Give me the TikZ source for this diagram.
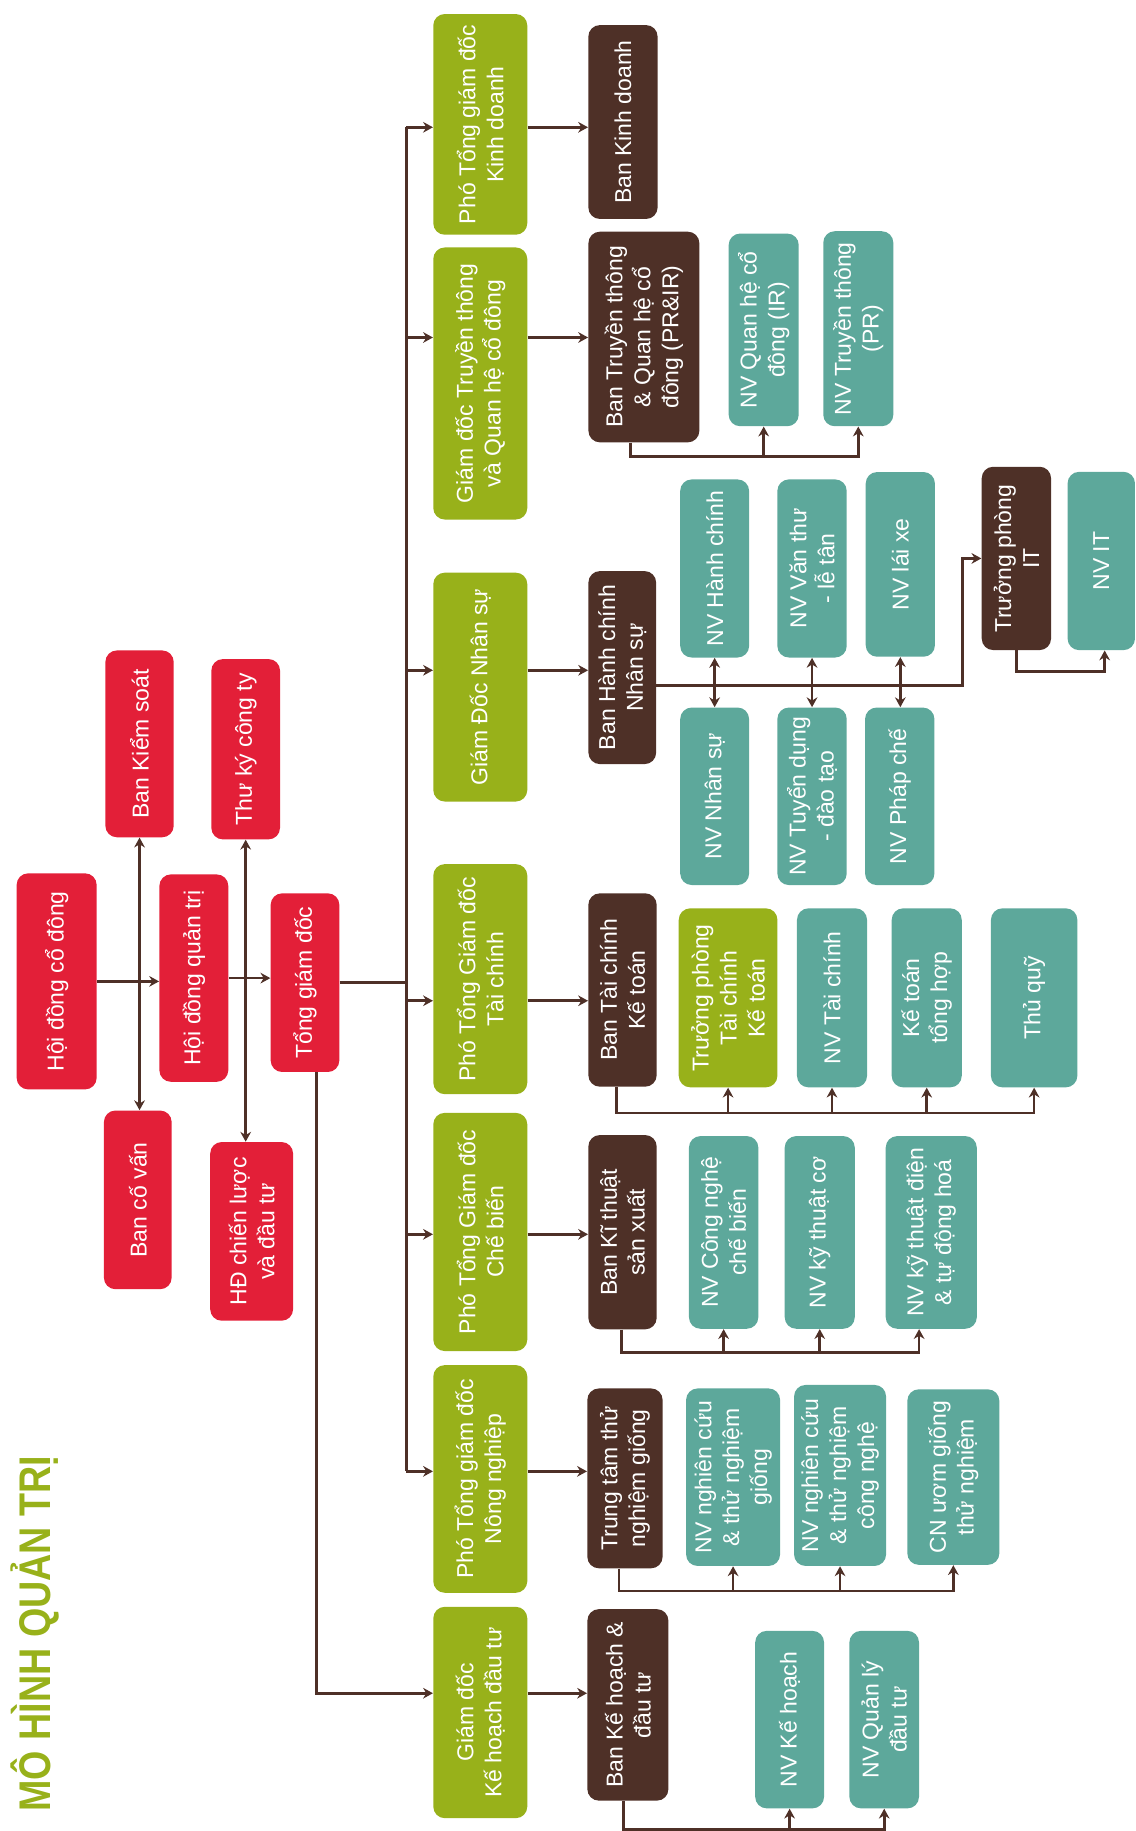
\documentclass[tikz,border=0pt]{standalone}
\usepackage{fontspec}
\setmainfont{Liberation Sans}
\usepackage{graphicx}
\usetikzlibrary{arrows.meta}

\definecolor{hred}{HTML}{E31F38}
\definecolor{hgreen}{HTML}{98B11A}
\definecolor{hbrown}{HTML}{4E3027}
\definecolor{hteal}{HTML}{5DA89B}

% boxes are turned by 90 degrees: north = left side, south = right side, west = bottom, east = top
\tikzstyle{box} = [rectangle, rounded corners=7pt, rotate=90, align=center,
    inner sep=0pt, text=white, font=\fontsize{14}{17}\selectfont]
\tikzstyle{redbox} = [box, fill=hred]
\tikzstyle{greenbox} = [box, fill=hgreen]
\tikzstyle{brownbox} = [box, fill=hbrown]
\tikzstyle{tealbox} = [box, fill=hteal]
\tikzstyle{ln} = [draw=hbrown, line width=1.6pt]
\tikzset{
  arr/.style={ln, -{Stealth[length=6pt,width=6.5pt]}},
  dbl/.style={ln, {Stealth[length=6pt,width=6.5pt]}-{Stealth[length=6pt,width=6.5pt]}},
  wh/.style 2 args={minimum height=#1*0.025cm, minimum width=#2*0.025cm}
}

\begin{document}
\begin{tikzpicture}[x=0.025cm, y=-0.025cm]
\useasboundingbox (0,0) rectangle (972,1568);

\node[font=\fontsize{27}{30}\selectfont\bfseries, text=hgreen, rotate=90] (title) at (30,1399) {\scalebox{0.85}[1]{MÔ HÌNH QUẢN TRỊ}};

% top level
\node[redbox, wh={68.5}{185}] (hdcd) at (48.5,840.4) {Hội đồng cổ đông};
\node[redbox, wh={58.5}{160}] (bks) at (119.5,637) {Ban Kiểm soát};
\node[redbox, wh={58}{153}] (bcv) at (118,1027.5) {Ban cố vấn};
\node[redbox, wh={59}{177.6}] (hdqt) at (166,837.6) {Hội đồng quản trị};
\node[redbox, wh={58.8}{154.4}] (tk) at (210.4,641.6) {Thư ký công ty};
\node[redbox, wh={71}{153}] (hdcl) at (215.5,1054.5) {HĐ chiến lược\\và đầu tư};
\node[redbox, wh={58.8}{153}] (tgd) at (261.2,841.5) {Tổng giám đốc};

% directors
\node[greenbox, wh={80.5}{189}] (ptgkd) at (411.3,106.5) {Phó Tổng giám đốc\\Kinh doanh};
\node[greenbox, wh={80.5}{233}] (gdtt) at (411.3,328.4) {Giám đốc Truyền thông\\và Quan hệ cổ đông};
\node[greenbox, wh={80.5}{196}] (gdns) at (411.3,588.4) {Giám Đốc Nhân sự};
\node[greenbox, wh={80.5}{197}] (ptgtc) at (411.3,838.5) {Phó Tổng Giám đốc\\Tài chính};
\node[greenbox, wh={80.5}{204}] (ptgcb) at (411.3,1055) {Phó Tổng Giám đốc\\Chế biến};
\node[greenbox, wh={80.5}{195}] (ptgnn) at (411.3,1266.5) {Phó Tổng giám đốc\\Nông nghiệp};
\node[greenbox, wh={80.5}{181}] (gdkh) at (411.3,1466.5) {Giám đốc\\Kế hoạch đầu tư};

% departments
\node[brownbox, wh={59.3}{166}] (bkd) at (533.5,104.5) {Ban Kinh doanh};
\node[brownbox, wh={95}{180.4}] (btt) at (551.4,288.6) {Ban Truyền thông\\\& Quan hệ cổ\\đông (PR\&IR)};
\node[brownbox, wh={58}{165.3}] (bhc) at (532.9,571.7) {Ban Hành chính\\Nhân sự};
\node[brownbox, wh={58.5}{165.6}] (btc) at (533.1,847.8) {Ban Tài chính\\Kế toán};
\node[brownbox, wh={58.5}{166.4}] (bkt) at (533.1,1055.2) {Ban Kĩ thuật\\sản xuất};
\node[brownbox, wh={64.5}{154}] (ttg) at (535.2,1266) {Trung tâm thử\\nghiệm giống};
\node[brownbox, wh={69.4}{164}] (bkh) at (537.7,1460) {Ban Kế hoạch \&\\đầu tư};

% staff
\node[tealbox, wh={60}{165}] (nvir) at (654,282.5) {NV Quan hệ cổ\\đông (IR)};
\node[tealbox, wh={60}{167}] (nvpr) at (735,281.5) {NV Truyền thông\\(PR)};

\node[tealbox, wh={59}{152.5}] (nvhc) at (612,486.8) {NV Hành chính};
\node[tealbox, wh={59.4}{152.5}] (nvvt) at (695.4,486.8) {NV Văn thư\\- lễ tân};
\node[tealbox, wh={59.3}{158.2}] (nvlx) at (771,483.3) {NV lái xe};
\node[tealbox, wh={59}{152}] (nvns) at (612,681.9) {NV Nhân sự};
\node[tealbox, wh={59.4}{152}] (nvtd) at (695.4,681.9) {NV Tuyển dụng\\- đào tạo};
\node[tealbox, wh={59.4}{152}] (nvpc) at (770.5,681.9) {NV Pháp chế};
\node[brownbox, wh={59.4}{157}] (tpit) at (870.4,478.2) {Trưởng phòng\\IT};
\node[tealbox, wh={57.7}{152.7}] (nvit) at (943.1,480.4) {NV IT};

\node[greenbox, wh={84.5}{153.3}] (tptc) at (623.5,854.5) {Trưởng phòng\\Tài chính\\Kế toán};
\node[tealbox, wh={60}{153.3}] (nvtc) at (712.5,854.5) {NV Tài chính};
\node[tealbox, wh={60}{153.3}] (kth) at (793.6,854.5) {Kế toán\\tổng hợp};
\node[tealbox, wh={74}{153.3}] (tq) at (885.6,854.5) {Thủ quỹ};

\node[tealbox, wh={59.4}{165}] (nvcn) at (619.7,1055.4) {NV Công nghệ\\chế biến};
\node[tealbox, wh={60}{165}] (nvktc) at (702,1055.4) {NV kỹ thuật cơ};
\node[tealbox, wh={78}{165}] (nvktd) at (797.5,1055.4) {NV kỹ thuật điện\\\& tự động hoá};

\node[tealbox, wh={80.5}{152}] (nvncg) at (627.8,1265) {NV nghiên cứu\\\& thử nghiệm\\giống};
\node[tealbox, wh={78.8}{155}] (nvnccn) at (719.4,1263.5) {NV nghiên cứu\\\& thử nghiệm\\công nghệ};
\node[tealbox, wh={78.8}{150.3}] (cnug) at (816.4,1264.9) {CN ươm giống\\thử nghiệm};

\node[tealbox, wh={59}{152}] (nvkh) at (676.2,1472.6) {NV Kế hoạch};
\node[tealbox, wh={59.6}{152}] (nvql) at (757.2,1472.6) {NV Quản lý\\đầu tư};

% row levels and bends
\coordinate (rkd) at (0,109);
\coordinate (rtt) at (0,289);
\coordinate (rns) at (0,574);
\coordinate (rtc) at (0,857);
\coordinate (rcb) at (0,1057);
\coordinate (rnn) at (0,1260);
\coordinate (rkh) at (0,1450);
\coordinate (trunk) at (348,841.5);
\coordinate (tgdout) at (271,0);
\coordinate (prbus) at (540,391);
\coordinate (nsbus) at (824,587);
\coordinate (itbus) at (946,575);
\coordinate (tcbus) at (528,953);
\coordinate (cbbus) at (532,1158);
\coordinate (nnbus) at (530,1362.5);
\coordinate (khbus) at (534,1566.5);

\draw[arr] (hdcd.south) -- (hdcd.south -| hdqt.north);
\draw[arr] (hdqt.south) -- (hdqt.south -| tgd.north);
\draw[dbl] (bks.west) -- (bks.west |- bcv.east);
\draw[dbl] (tk.west) -- (tk.west |- hdcl.east);

\draw[ln] (tgd.south) -- (trunk);
\draw[ln] (trunk |- rkd) -- (trunk |- rnn);
\draw[arr] (trunk |- rkd) -- (ptgkd.north |- rkd);
\draw[arr] (trunk |- rtt) -- (gdtt.north |- rtt);
\draw[arr] (trunk |- rns) -- (gdns.north |- rns);
\draw[arr] (trunk |- rtc) -- (ptgtc.north |- rtc);
\draw[arr] (trunk |- rcb) -- (ptgcb.north |- rcb);
\draw[arr] (trunk |- rnn) -- (ptgnn.north |- rnn);
\draw[arr] (tgd.west -| tgdout) |- (gdkh.north |- rkh);

\draw[arr] (ptgkd.south |- rkd) -- (bkd.north |- rkd);
\draw[arr] (gdtt.south |- rtt) -- (btt.north |- rtt);
\draw[arr] (gdns.south |- rns) -- (bhc.north |- rns);
\draw[arr] (ptgtc.south |- rtc) -- (btc.north |- rtc);
\draw[arr] (ptgcb.south |- rcb) -- (bkt.north |- rcb);
\draw[arr] (ptgnn.south |- rnn) -- (ttg.north |- rnn);
\draw[arr] (gdkh.south |- rkh) -- (bkh.north |- rkh);

\draw[arr] (btt.west -| prbus) -- (prbus) -| (nvpr.west);
\draw[arr] (nvir.west |- prbus) -- (nvir.west);

\draw[arr] (bhc.south |- nsbus) -- (nsbus) |- (tpit.north);
\draw[dbl] (nvhc.west) -- (nvhc.west |- nvns.east);
\draw[dbl] (nvvt.west) -- (nvvt.west |- nvtd.east);
\draw[dbl] (nvlx.west) -- (nvlx.west |- nvpc.east);
\draw[arr] (tpit.west) |- (itbus) -- (itbus |- nvit.west);

\draw[arr] (btc.west -| tcbus) -- (tcbus) -| (tq.west);
\draw[arr] (tptc.west |- tcbus) -- (tptc.west);
\draw[arr] (nvtc.west |- tcbus) -- (nvtc.west);
\draw[arr] (kth.west |- tcbus) -- (kth.west);

\draw[arr] (bkt.west -| cbbus) -- (cbbus) -| ([xshift=-0.26cm]nvktd.west);
\draw[arr] (nvcn.west |- cbbus) -- (nvcn.west);
\draw[arr] (nvktc.west |- cbbus) -- (nvktc.west);

\draw[arr] (ttg.west -| nnbus) -- (nnbus) -| (cnug.west);
\draw[arr] (nvncg.west |- nnbus) -- (nvncg.west);
\draw[arr] (nvnccn.west |- nnbus) -- (nvnccn.west);

\draw[arr] (bkh.west -| khbus) -- (khbus) -| (nvql.west);
\draw[arr] (nvkh.west |- khbus) -- (nvkh.west);

\end{tikzpicture}
\end{document}
